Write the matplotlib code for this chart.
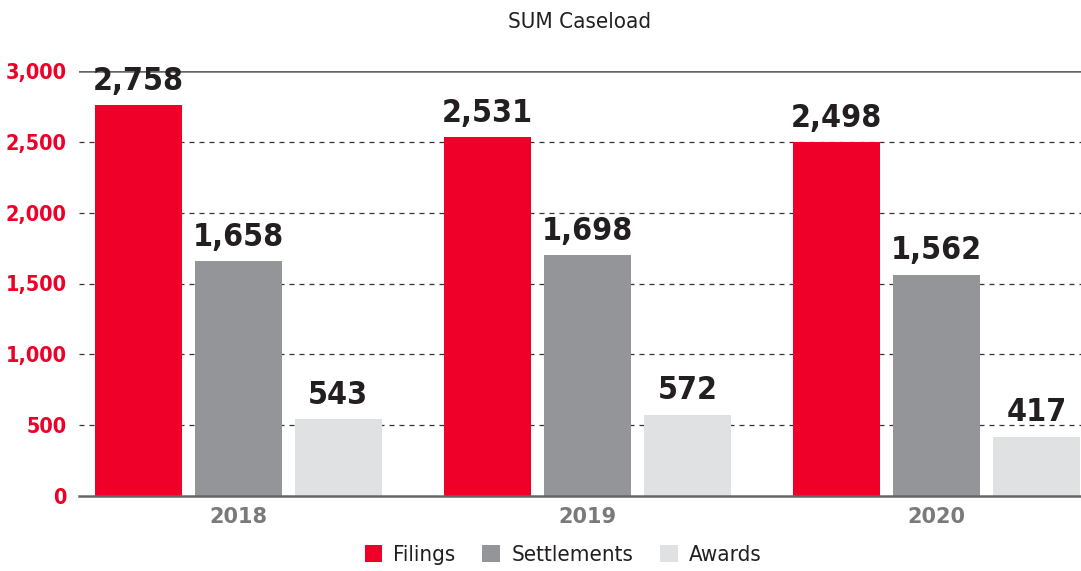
import matplotlib.pyplot as plt
import numpy as np

years = ["2018", "2019", "2020"]
series = ["Filings", "Settlements", "Awards"]
filings = [2758, 2531, 2498]
settlements = [1658, 1698, 1562]
awards = [543, 572, 417]
colors = ["#ee0028", "#939598", "#e0e1e3"]

cond = dict(family="DejaVu Sans", stretch="condensed")

fig = plt.figure(figsize=(10.81, 5.71), dpi=100)
ax = fig.add_axes([79 / 1081, 1 - 496 / 571, 1002 / 1081, 425 / 571])

x = np.arange(len(years))
width = 0.249
step = 0.286
for i, (name, vals) in enumerate(zip(series, [filings, settlements, awards])):
    pos = x + (i - 1) * step
    ax.bar(pos, vals, width, color=colors[i], label=name, zorder=2)
    for p, v in zip(pos, vals):
        ax.text(p, v + 60, f"{v:,}", ha="center", va="bottom", fontsize=23,
                fontweight="bold", color="#231f20", zorder=4, **cond)

ax.set_xlim(-0.456, 2.413)
ax.set_ylim(0, 3000)
ax.set_yticks(range(0, 3001, 500))
ax.set_yticklabels([f"{t:,}" for t in range(0, 3001, 500)], fontsize=15.5,
                   fontweight="bold", color="#ee0028", **cond)
ax.set_xticks(x)
ax.set_xticklabels(years, fontsize=15, fontweight="bold", color="#7a7a7a")
ax.tick_params(axis="both", length=0)
ax.tick_params(axis="y", pad=9)
ax.tick_params(axis="x", pad=8)

for t in range(500, 3000, 500):
    ax.axhline(t, color="#333333", lw=0.9, ls=(0, (4, 4)), zorder=1)
ax.axhline(3000, color="#666666", lw=1.8, zorder=1)

for s in ["top", "right", "left"]:
    ax.spines[s].set_visible(False)
ax.spines["bottom"].set_color("#666666")
ax.spines["bottom"].set_linewidth(1.8)

fig.text(580 / 1081, 1 - 22 / 571, "SUM Caseload", ha="center", va="center",
         fontsize=16, color="#231f20", **cond)

leg = fig.legend(loc="center", bbox_to_anchor=(563 / 1081, 1 - 555 / 571), ncol=3,
                 frameon=False, handlelength=0.8, handleheight=0.8,
                 handletextpad=0.5, columnspacing=1.2,
                 prop={"family": "DejaVu Sans", "stretch": "condensed", "size": 16})
for t in leg.get_texts():
    t.set_color("#231f20")

fig.savefig("out.png", dpi=100)
